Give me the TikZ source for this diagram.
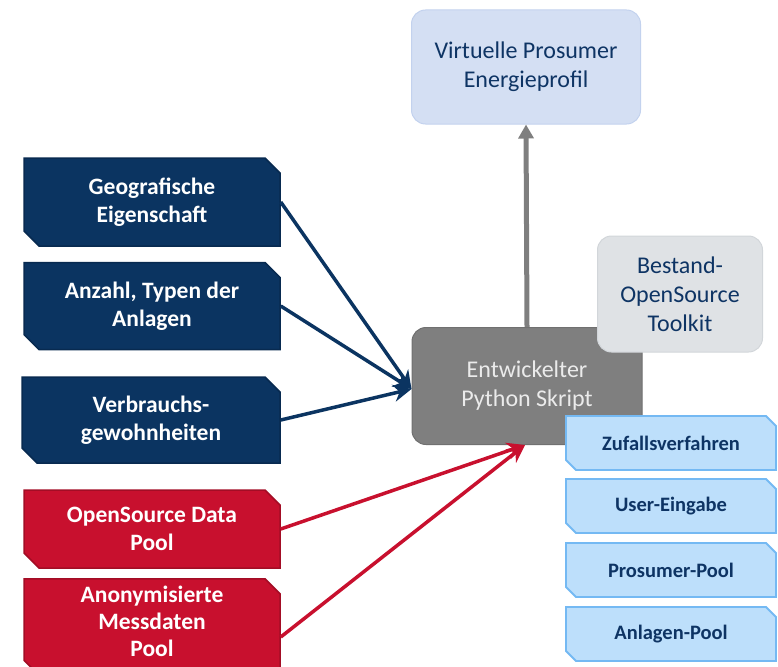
\documentclass[tikz,border=0pt]{standalone}
\usepackage{fontspec}
\setmainfont{Carlito}
\usetikzlibrary{shapes.misc,arrows.meta}
\definecolor{dblue}{HTML}{0B3461}
\definecolor{dbluebd}{HTML}{082A50}
\definecolor{dred}{HTML}{C8102E}
\definecolor{dredbd}{HTML}{A30D25}
\definecolor{midgray}{HTML}{7F7F7F}
\definecolor{midgraybd}{HTML}{707070}
\definecolor{lav}{HTML}{D4DFF3}
\definecolor{lavbd}{HTML}{C3D2EE}
\definecolor{lgray}{HTML}{DFE2E5}
\definecolor{lgraybd}{HTML}{D2D6DA}
\definecolor{skyfill}{HTML}{BDDFFB}
\definecolor{skybd}{HTML}{74B9F3}
\definecolor{navytext}{HTML}{0E3464}
\tikzset{
  snip/.style={chamfered rectangle, chamfered rectangle corners={north east,south west},
    chamfered rectangle sep=7.5pt, inner sep=0pt, line width=1.5pt, align=center,
    font=\fontsize{23.5}{28.5}\selectfont\bfseries, text=white, minimum width=256pt},
  bluebox/.style={snip, fill=dblue, draw=dbluebd},
  redbox/.style={snip, fill=dred, draw=dredbd},
  skybox/.style={chamfered rectangle, chamfered rectangle corners={north east,south west},
    chamfered rectangle sep=5pt, inner sep=0pt, line width=1.8pt, align=center,
    font=\fontsize{20.5}{24}\selectfont\bfseries, text=navytext, fill=skyfill, draw=skybd,
    minimum width=210pt, minimum height=54pt},
  roundbox/.style={rounded corners=14pt, align=center, line width=1pt,
    font=\fontsize{24}{29}\selectfont},
  bluearrow/.style={draw=dblue, line width=3.5pt, -{Stealth[length=18pt,width=17pt]}},
  redarrow/.style={draw=dred, line width=3.5pt, -{Stealth[length=18pt,width=17pt]}},
  grayarrow/.style={draw=midgray, line width=5pt, -{Triangle[length=14pt,width=15pt]}}
}
\begin{document}
\begin{tikzpicture}[x=1pt,y=-1pt]
\useasboundingbox (0,0) rectangle (778,666);
\node[bluebox, minimum height=88pt] (geo) at (152,202) {Geografische\\Eigenschaft};
\node[bluebox, minimum height=87pt] (anz) at (152,306) {Anzahl, Typen der\\Anlagen};
\node[bluebox, minimum height=86pt, minimum width=258pt] (ver) at (151,420) {Verbrauchs-\\gewohnheiten};
\node[redbox, minimum height=78pt] (osd) at (152,529) {OpenSource Data\\Pool};
\node[redbox, minimum height=86pt, font=\fontsize{23.5}{27}\selectfont\bfseries] (ano) at (152,627) {Anonymisierte\\Messdaten\\Pool\\[-16pt]\mbox{}};
\node[roundbox, fill=lav, draw=lavbd, text=navytext, minimum width=229pt, minimum height=114pt] (vir) at (526,67) {Virtuelle Prosumer\\Energieprofil};
\node[roundbox, fill=midgray, draw=midgraybd, text=white!92!black, minimum width=230pt, minimum height=117pt] (ent) at (527,386) {Entwickelter\\Python Skript};
\node[roundbox, fill=lgray, draw=lgraybd, text=navytext, minimum width=165pt, minimum height=116pt] (bes) at (680,294) {Bestand-\\OpenSource\\Toolkit};
\node[skybox] (zuf) at (671,443) {Zufallsverfahren};
\node[skybox] (usr) at (671,506) {User-Eingabe};
\node[skybox] (pro) at (671,570) {Prosumer-Pool};
\node[skybox] (anl) at (671,634) {Anlagen-Pool};
\draw[grayarrow] (ent.north) -- (vir.south);
\draw[bluearrow] (geo.east) -- ([yshift=-3pt]ent.west);
\draw[bluearrow] (anz.east) -- ([yshift=-3pt]ent.west);
\draw[bluearrow] (ver.east) -- ([yshift=-3pt]ent.west);
\draw[redarrow] (osd.east) -- ([xshift=-2pt]ent.south);
\draw[redarrow] ([yshift=-10pt]ano.east) -- ([xshift=-2pt]ent.south);
\end{tikzpicture}
\end{document}
